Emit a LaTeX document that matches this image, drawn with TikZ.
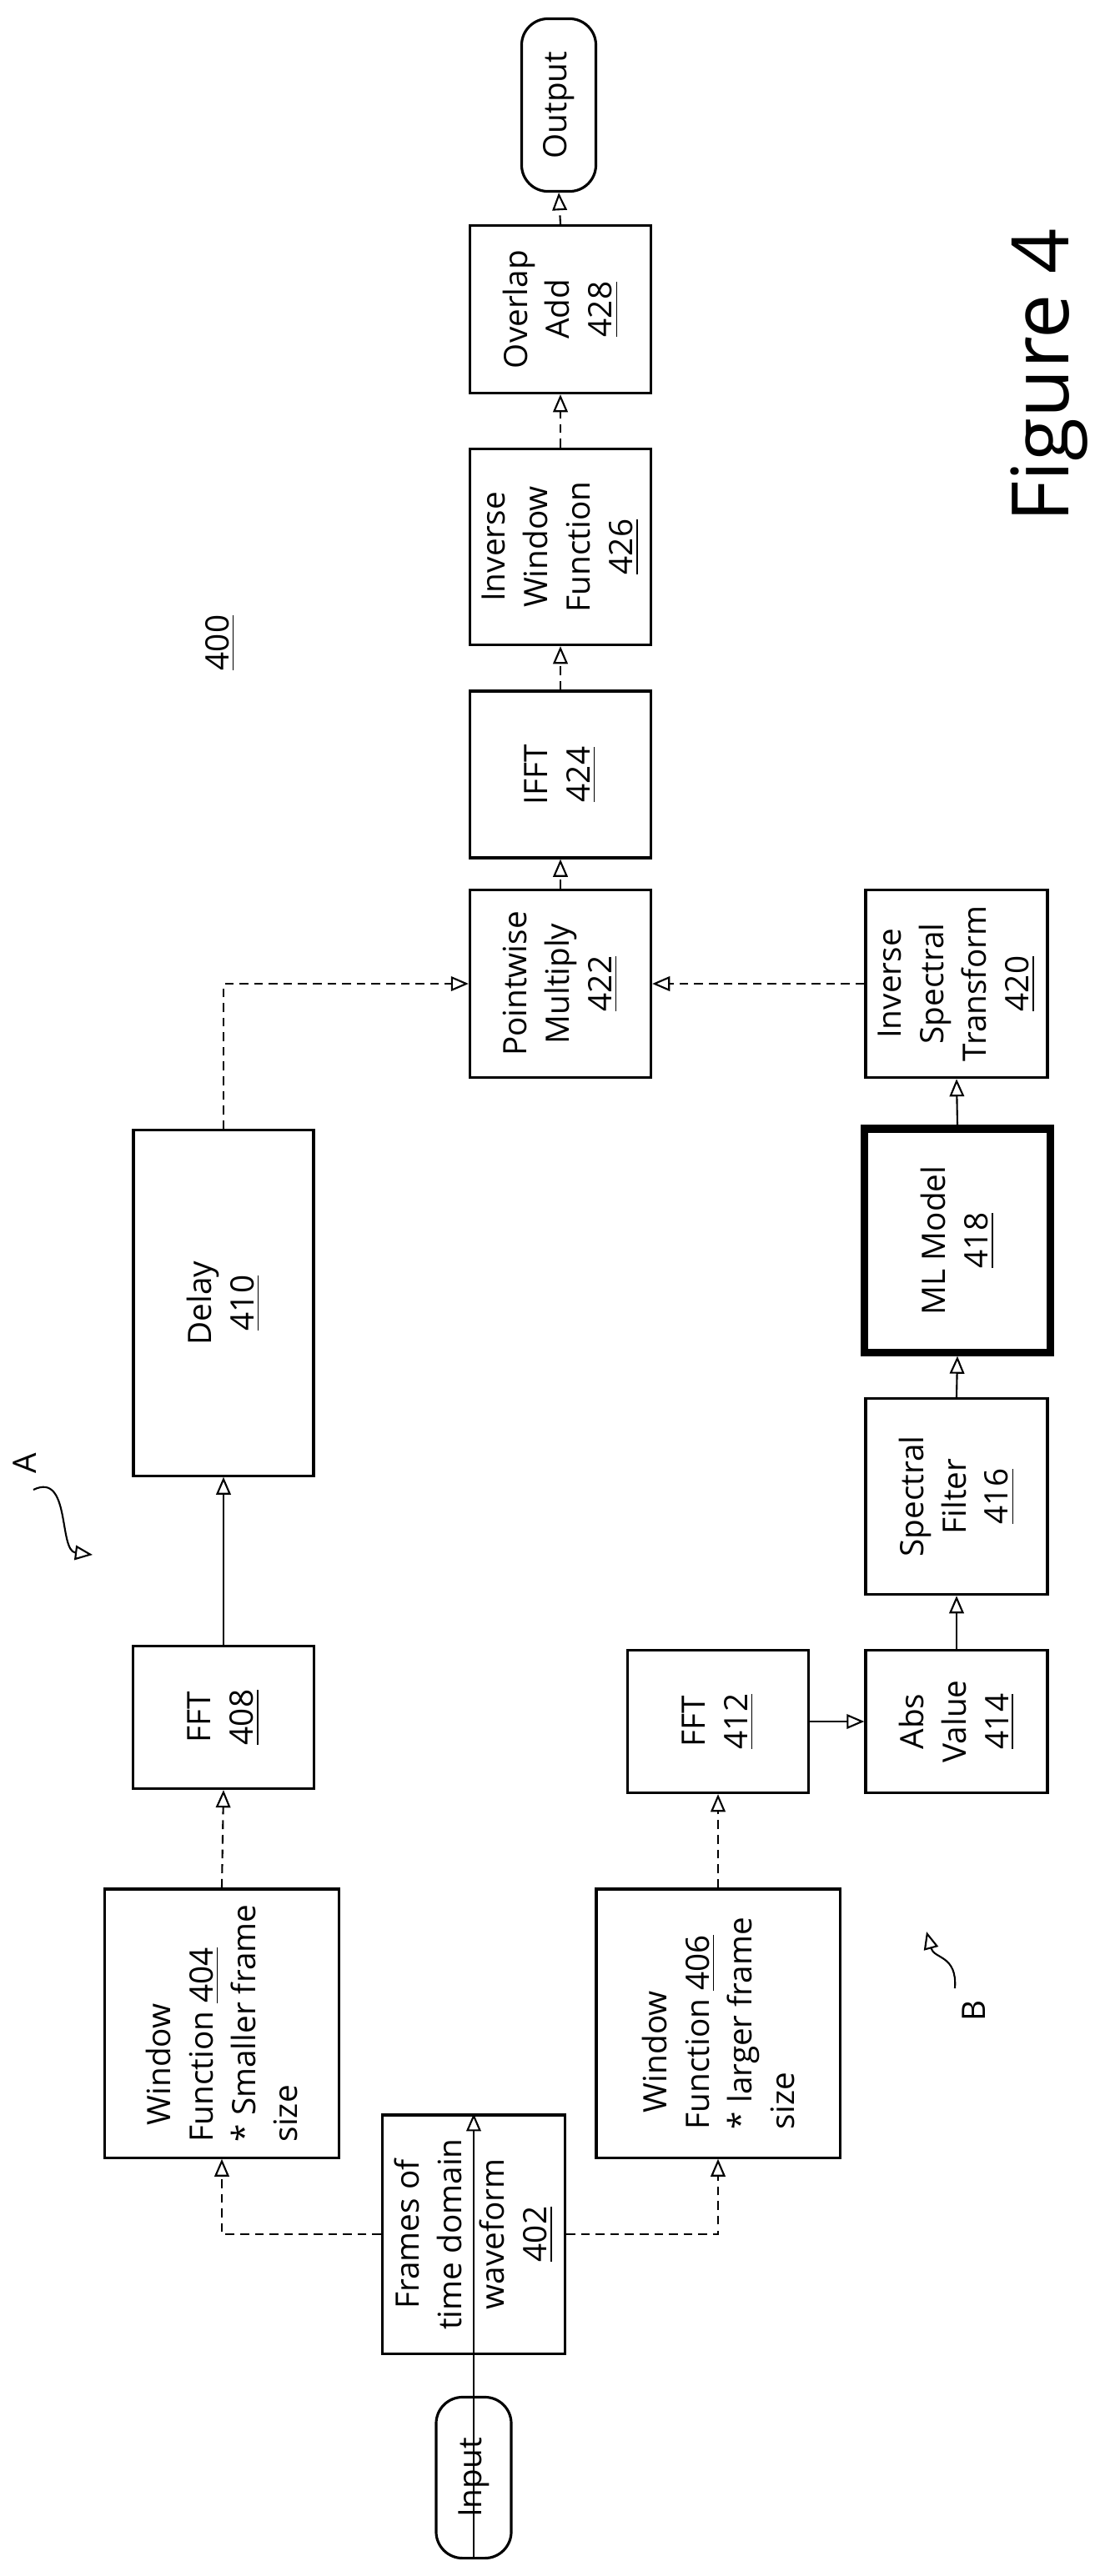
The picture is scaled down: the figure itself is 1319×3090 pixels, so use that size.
\documentclass[tikz,border=0pt]{standalone}
\usepackage{fontspec}
\setmainfont{Open Sans}
\usetikzlibrary{arrows.meta}
\begin{document}
\begin{tikzpicture}[x=0.01cm,y=-0.01cm,
  box/.style={draw,line width=0.9pt,rotate=90,align=center,inner sep=2pt,
    font=\fontsize{11}{14.5}\selectfont},
  term/.style={box,rounded corners=9pt},
  arr/.style={-{Triangle[open,length=6pt,width=5pt]},line width=0.6pt},
  darr/.style={arr,dash pattern=on 3pt off 2pt},
  lbl/.style={rotate=90,font=\fontsize{11}{13}\selectfont}]
\useasboundingbox (0,0) rectangle (1319,3090);
\node[term,minimum width=1.93cm,minimum height=0.9cm] (in) at (568,2972) {Input};
\node[box,minimum width=2.86cm,minimum height=2.19cm] (n402) at (568,2680) {Frames of\\time domain\\waveform\\\underline{402}};
\node[box,minimum width=3.22cm,minimum height=2.81cm,align=left] (n404) at (266,2427) {\ \ Window\\Function \underline{404}\\* Smaller frame\\size};
\node[box,minimum width=3.22cm,minimum height=2.92cm,align=left] (n406) at (861,2427) {\ \ Window\\Function \underline{406}\\* larger frame\\size};
\node[box,minimum width=1.71cm,minimum height=2.17cm] (n408) at (268,2060) {FFT\\\underline{408}};
\node[box,minimum width=1.71cm,minimum height=2.17cm] (n412) at (861,2065) {FFT\\\underline{412}};
\node[box,minimum width=1.71cm,minimum height=2.18cm] (n414) at (1147,2065) {Abs\\Value\\\underline{414}};
\node[box,minimum width=4.14cm,minimum height=2.16cm] (n410) at (268,1563) {Delay\\\underline{410}};
\node[box,minimum width=2.35cm,minimum height=2.18cm] (n416) at (1147,1795) {Spectral\\Filter\\\underline{416}};
\node[box,line width=2.6pt,minimum width=2.68cm,minimum height=2.23cm] (n418) at (1148,1488) {ML Model\\\underline{418}};
\node[box,minimum width=2.25cm,minimum height=2.18cm] (n420) at (1147,1180) {Inverse\\Spectral\\Transform\\\underline{420}};
\node[box,minimum width=2.25cm,minimum height=2.17cm] (n422) at (672,1180) {Pointwise\\Multiply\\\underline{422}};
\node[box,minimum width=2.00cm,minimum height=2.17cm] (n424) at (672,929) {IFFT\\\underline{424}};
\node[box,minimum width=2.35cm,minimum height=2.17cm] (n426) at (672,656) {Inverse\\Window\\Function\\\underline{426}};
\node[box,minimum width=2.01cm,minimum height=2.17cm] (n428) at (672,371) {Overlap\\Add\\\underline{428}};
\node[term,minimum width=2.07cm,minimum height=0.89cm] (out) at (670,126) {Output};
\node[lbl] (l400) at (264,771) {\underline{400}};
\node[rotate=90,font=\fontsize{27}{30}\selectfont] (fig) at (1258,450) {Figure 4};
\node[lbl] (la) at (30,1755) {A};
\node[lbl] (lb) at (1168,2412) {B};
\coordinate (a0) at (40,1787); \coordinate (a1) at (111,1865);
\coordinate (b0) at (1145,2385); \coordinate (b1) at (1111,2317);
\draw[arr] (a0) .. controls (85,1765) and (70,1860) .. (a1);
\draw[arr] (b0) .. controls (1148,2345) and (1120,2350) .. (b1);
\draw[arr] (in.west) -- (n402.east);
\draw[darr] (n402.north) -| (n404.west);
\draw[darr] (n402.south) -| (n406.west);
\draw[darr] (n404.east) -- (n408.west);
\draw[darr] (n406.east) -- (n412.west);
\draw[arr] (n408.east) -- (n410.west);
\draw[arr] (n412.south) -- (n414.north);
\draw[arr] (n414.east) -- (n416.west);
\draw[arr] (n416.east) -- (n418.west);
\draw[arr] (n418.east) -- (n420.west);
\draw[darr] (n410.east) |- (n422.north);
\draw[darr] (n420.north) -- (n422.south);
\draw[darr] (n422.east) -- (n424.west);
\draw[darr] (n424.east) -- (n426.west);
\draw[darr] (n426.east) -- (n428.west);
\draw[darr] (n428.east) -- (out.west);
\end{tikzpicture}
\end{document}
